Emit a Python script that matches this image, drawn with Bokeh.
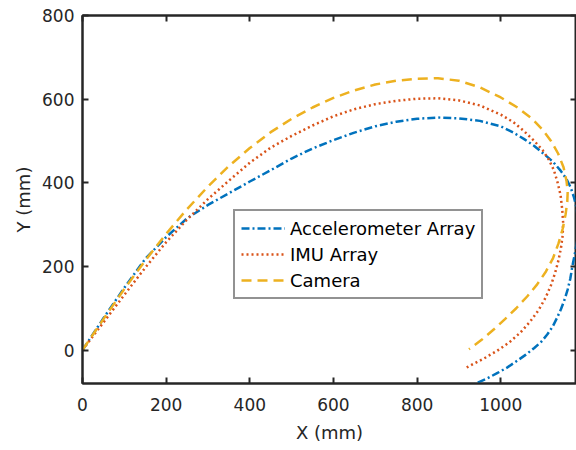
from bokeh.plotting import figure
from bokeh.models import Range1d, LinearAxis, FixedTicker, Legend, LegendItem, CustomJSTickFormatter
from bokeh.embed import file_html
from bokeh.resources import INLINE

# Accelerometer Array (X, Y in mm)
acc_x = [0, 50, 100, 150, 200, 250, 300, 350, 400, 450, 500, 550, 600, 650, 700, 750, 800, 850,
         900, 950, 1000, 1030, 1055, 1080, 1103, 1125, 1143, 1157, 1167, 1175, 1181, 1184, 1185,
         1183, 1178, 1172, 1166, 1160, 1153, 1144, 1134, 1124, 1111, 1097, 1080, 1060, 1040, 1015,
         990, 965, 940, 920]
acc_y = [0, 76, 149, 218, 270, 315, 347, 375, 403, 430, 458, 482, 502, 520, 535, 546, 553, 556,
         554, 548, 535, 520, 505, 488, 469, 450, 429, 409, 389, 365, 341, 315, 290,
         265, 235, 205, 170, 145, 122, 98, 76, 56, 37, 20, 5, -11, -25, -42,
         -56, -69, -80, -89]

# IMU Array
imu_x = [0, 50, 100, 150, 200, 250, 300, 350, 400, 450, 500, 550, 600, 650, 700, 750, 800, 850,
         900, 950, 1000, 1030, 1055, 1080, 1100, 1115, 1127, 1136, 1143, 1147, 1149, 1148, 1144,
         1138, 1130, 1120, 1107, 1090, 1070, 1047, 1020, 991, 960, 935, 912]
imu_y = [0, 66, 132, 197, 258, 312, 361, 405, 448, 484, 512, 537, 559, 576, 588, 596, 601, 602,
         597, 585, 563, 545, 524, 500, 478, 455, 430, 400, 370, 335, 305, 275, 245,
         215, 185, 155, 125, 95, 68, 42, 18, -2, -20, -33, -45]

# Camera
cam_x = [0, 50, 100, 150, 200, 250, 300, 350, 400, 450, 500, 550, 600, 650, 700, 750, 800, 850,
         900, 950, 1000, 1040, 1075, 1100, 1120, 1137, 1150, 1157, 1160, 1159, 1155, 1148, 1138,
         1125, 1108, 1087, 1063, 1037, 1010, 983, 955, 924]
cam_y = [0, 74, 146, 214, 278, 337, 391, 440, 483, 521, 553, 580, 603, 621, 635, 644, 649, 650,
         644, 628, 604, 580, 553, 527, 500, 470, 437, 405, 380, 355, 325, 290, 255,
         220, 188, 157, 128, 100, 74, 49, 25, 2]

x_ticks = [0, 200, 400, 600, 800, 1000]
y_ticks = [0, 200, 400, 600, 800]
labels = ["Accelerometer Array", "IMU Array", "Camera"]

FONT = "DejaVu Sans"
TXT = "#262626"

p = figure(width=576, height=450, output_backend="svg", toolbar_location=None,
           x_range=Range1d(0, 1181), y_range=Range1d(-80, 800),
           min_border_left=82, min_border_right=0, min_border_top=15, min_border_bottom=67,
           x_axis_label="X (mm)", y_axis_label="Y (mm)")
p.background_fill_color = "white"
p.border_fill_color = "white"
p.outline_line_color = TXT
p.outline_line_width = 2
p.grid.visible = False

p.xaxis.ticker = FixedTicker(ticks=x_ticks)
p.yaxis.ticker = FixedTicker(ticks=y_ticks)
for ax in [p.xaxis[0], p.yaxis[0]]:
    ax.major_tick_in = 6
    ax.major_tick_out = 0
    ax.minor_tick_line_color = None
    ax.axis_line_width = 2
    ax.axis_line_color = TXT
    ax.major_tick_line_width = 2
    ax.major_tick_line_color = TXT
    ax.major_label_text_font = FONT
    ax.major_label_text_font_size = "17px"
    ax.major_label_text_color = TXT
    ax.axis_label_text_font = FONT
    ax.axis_label_text_font_size = "18px"
    ax.axis_label_text_font_style = "normal"
    ax.axis_label_text_color = TXT
p.xaxis.major_label_standoff = 14
p.xaxis.axis_label_standoff = 8
p.yaxis.major_label_standoff = 8
p.yaxis.axis_label_standoff = 5

for loc, tk in [("above", x_ticks), ("right", y_ticks)]:
    ax = LinearAxis(ticker=FixedTicker(ticks=tk), formatter=CustomJSTickFormatter(code="return ''"),
                    major_label_text_font_size="1px",
                    major_label_standoff=0, major_tick_in=6, major_tick_out=0,
                    minor_tick_line_color=None, axis_line_width=2, axis_line_color=TXT,
                    major_tick_line_width=2, major_tick_line_color=TXT)
    p.add_layout(ax, loc)

r1 = p.line(acc_x, acc_y, line_color="#0072BD", line_width=2.5, line_dash="8 3 2 3")
r2 = p.line(imu_x, imu_y, line_color="#D95319", line_width=2.5, line_dash="2 3")
r3 = p.line(cam_x, cam_y, line_color="#EDB120", line_width=2.5, line_dash="10 6")

legend = Legend(items=[LegendItem(label=labels[0], renderers=[r1]),
                       LegendItem(label=labels[1], renderers=[r2]),
                       LegendItem(label=labels[2], renderers=[r3])],
                location=(151, 84), padding=6, spacing=4, label_height=22, glyph_height=22,
                glyph_width=44, label_standoff=5, margin=0,
                border_line_color=TXT, border_line_width=2,
                label_text_font=FONT, label_text_font_size="18px", label_text_color="black",
                background_fill_alpha=1)
p.add_layout(legend)

open("out.html", "w").write(file_html(p, INLINE))
